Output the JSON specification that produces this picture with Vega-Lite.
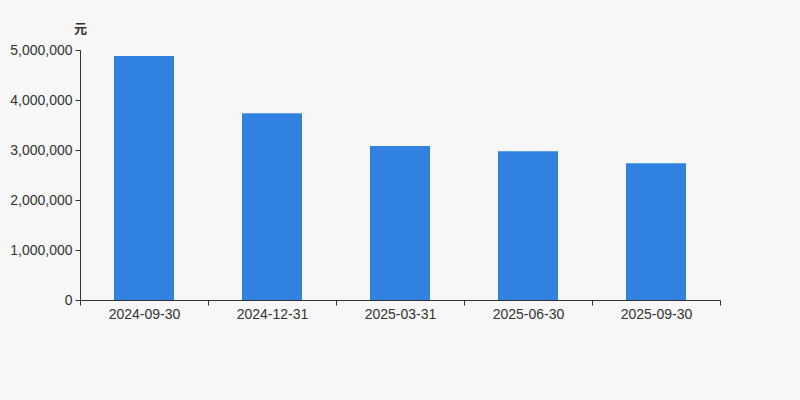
{
  "$schema": "https://vega.github.io/schema/vega-lite/v6.json",
  "width": 640,
  "height": 250,
  "autosize": {"type": "none"},
  "padding": {"left": 80, "top": 50, "right": 80, "bottom": 100},
  "background": "#f7f7f7",
  "data": {
    "values": [
      {"date": "2024-09-30", "value": 4880000},
      {"date": "2024-12-31", "value": 3735000},
      {"date": "2025-03-31", "value": 3080000},
      {"date": "2025-06-30", "value": 2975000},
      {"date": "2025-09-30", "value": 2735000}
    ]
  },
  "mark": {"type": "bar", "width": 60, "color": "#3182e0"},
  "encoding": {
    "x": {
      "field": "date",
      "type": "ordinal",
      "title": null,
      "scale": {"paddingInner": 0, "paddingOuter": 0},
      "axis": {
        "labelAngle": 0,
        "tickBand": "extent",
        "tickSize": 5,
        "labelPadding": 2,
        "labelFontSize": 14,
        "labelColor": "#333333",
        "labelFont": "Liberation Sans",
        "domainColor": "#333333",
        "tickColor": "#333333"
      }
    },
    "y": {
      "field": "value",
      "type": "quantitative",
      "title": "元",
      "scale": {"domain": [0, 5000000], "nice": false},
      "axis": {
        "values": [0, 1000000, 2000000, 3000000, 4000000, 5000000],
        "format": ",d",
        "grid": false,
        "tickSize": 5,
        "labelPadding": 3,
        "labelFontSize": 14,
        "labelColor": "#333333",
        "labelFont": "Liberation Sans",
        "domainColor": "#333333",
        "tickColor": "#333333",
        "titleAngle": 0,
        "titleAlign": "center",
        "titleBaseline": "middle",
        "titleX": 0,
        "titleY": -22,
        "titleFont": "Noto Sans CJK SC",
        "titleFontSize": 13,
        "titleFontWeight": "bold",
        "titleColor": "#333333"
      }
    }
  },
  "config": {"view": {"stroke": null}}
}
